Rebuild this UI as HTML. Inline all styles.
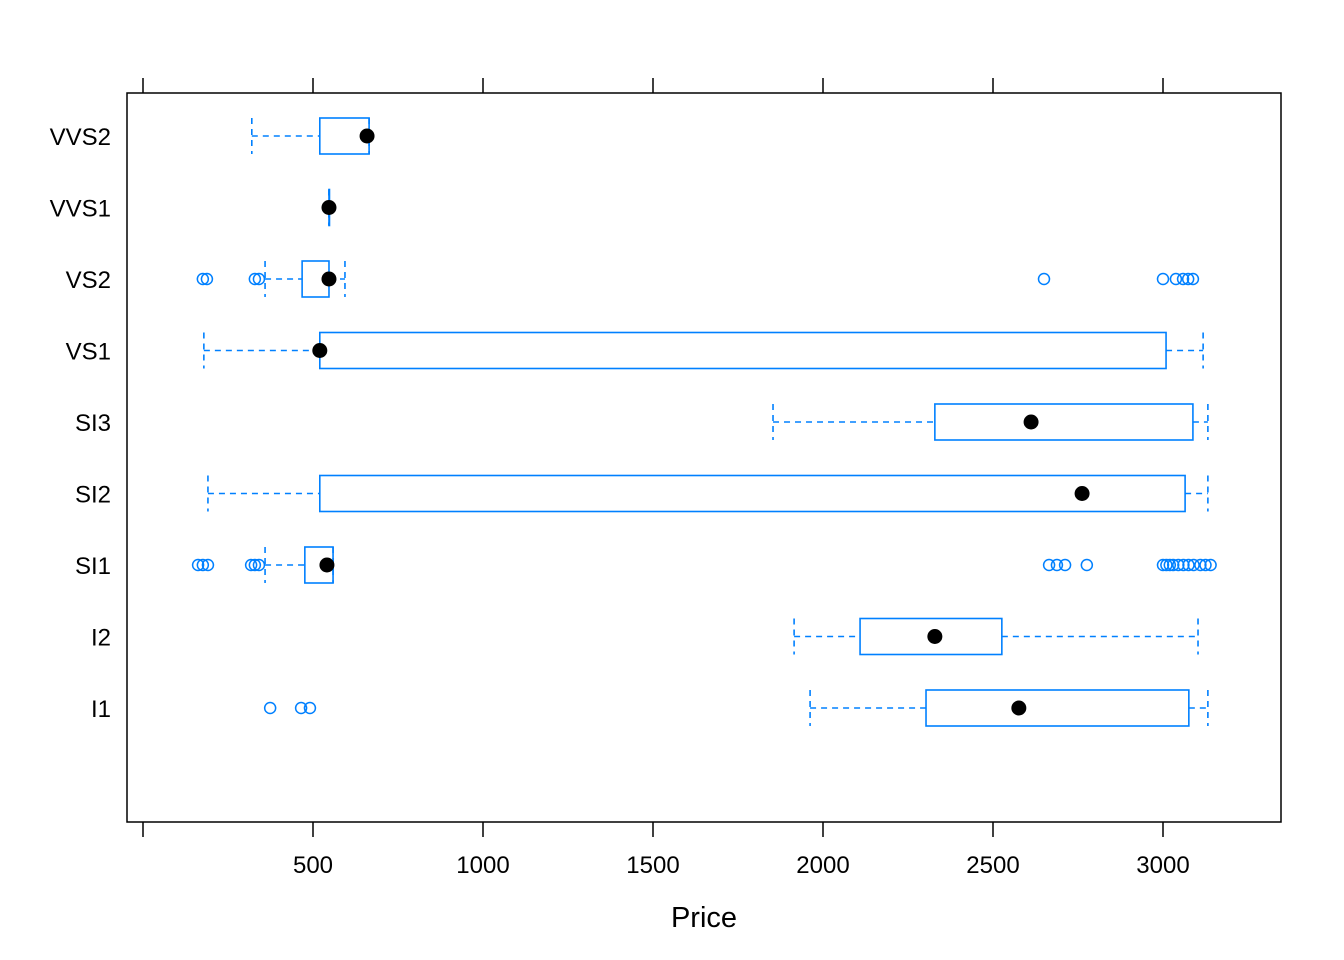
<!DOCTYPE html>
<html><head><meta charset="utf-8"><style>
body{margin:0;background:#fff}
svg{display:block;font-family:"Liberation Sans",Arial,sans-serif}
</style></head><body>
<svg id="chart" width="1344" height="960">
<rect x="127" y="93" width="1154" height="729" fill="none" stroke="#000" stroke-width="1.5"/>
<text x="704" y="927" font-size="29" text-anchor="middle">Price</text>
</svg>
<script>
const categories=["I1","I2","SI1","SI2","SI3","VS1","VS2","VVS1","VVS2"];
const whiskerLow=[1962,1915,359,191,1853,179,359,547,320];
const q1=[2303,2109,476,520,2329,520,468,547,520];
const median=[2576,2329,541,2762,2612,520,547,547,659];
const q3=[3076,2526,559,3065,3088,3009,547,547,665];
const whiskerHigh=[3132,3103,559,3132,3132,3118,594,547,665];
const outliers=[[374,465,491],[],[162,176,191,318,329,341,2665,2688,2712,2776,3000,3010,3020,3030,3045,3060,3075,3090,3110,3125,3140],[],[],[],[176,188,329,341,2650,3000,3038,3059,3074,3088],[],[]];
const xTicks=[0,500,1000,1500,2000,2500,3000];
const xTickLabels=["","500","1000","1500","2000","2500","3000"];

const svg=document.getElementById('chart');
const NS="http://www.w3.org/2000/svg";
const xs=v=>143+v*0.34;
const ys=i=>708-i*71.5;
const blue="#0080ff";
function mk(t,a){const e=document.createElementNS(NS,t);for(const k in a)e.setAttribute(k,a[k]);svg.appendChild(e);return e;}

xTicks.forEach((t,i)=>{
  const x=xs(t);
  let e=mk('line',{x1:x,x2:x,y1:78,y2:93,stroke:'#000','stroke-width':1.5});
  
  
  e=mk('line',{x1:x,x2:x,y1:822,y2:837,stroke:'#000','stroke-width':1.5});
  
  
  e=mk('text',{x:x,y:873,'font-size':24,'text-anchor':'middle'});
  e.textContent=xTickLabels[i];
  
  
});

categories.forEach((c,i)=>{
  const y=ys(i);
  let e=mk('text',{x:111,y:y+9,'font-size':24,'text-anchor':'end'});
  e.textContent=c;
  
  
  const da={stroke:blue,'stroke-width':1.6,'stroke-dasharray':'6,5',fill:'none'};
  e=mk('line',Object.assign({x1:xs(whiskerLow[i]),x2:xs(q1[i]),y1:y,y2:y},da));
  
  
  e=mk('line',Object.assign({x1:xs(q3[i]),x2:xs(whiskerHigh[i]),y1:y,y2:y},da));
  
  
  [whiskerLow[i],whiskerHigh[i]].forEach(v=>{
    const c2=mk('line',Object.assign({x1:xs(v),x2:xs(v),y1:y-18,y2:y+18},da));
    
    
  });
  e=mk('rect',{x:xs(q1[i]),y:y-18,width:Math.max(xs(q3[i])-xs(q1[i]),0.5),height:36,fill:'none',stroke:blue,'stroke-width':1.6});
  
  
  outliers[i].forEach(v=>{
    const o=mk('circle',{cx:xs(v),cy:y,r:5.5,fill:'none',stroke:blue,'stroke-width':1.5});
    
    
  });
  e=mk('circle',{cx:xs(median[i]),cy:y,r:7.5,fill:'#000'});
  
  
});
</script>
</body></html>
